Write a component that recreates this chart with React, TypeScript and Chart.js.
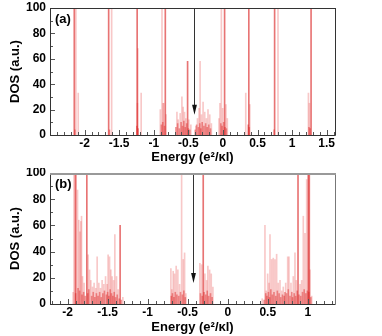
import React, { useEffect, useRef } from "react";
import { Chart, registerables } from "chart.js";

Chart.register(...registerables);

const FONT = "'Liberation Sans', Arial, Helvetica, sans-serif";

type Level = [number, number]; // [energy, DOS]

// ---------- panel (a) ----------
const strongA: Level[] = [
  [-2.149, 100], [-1.652, 100], [-1.24, 100], [-0.833, 100],
  [0.024, 100], [0.374, 100], [0.747, 100], [1.274, 100], [-0.511, 58],
];
const faintA: Level[] = [
  [-2.126, 100], [-2.092, 33], [-1.609, 100], [-1.23, 68], [-1.236, 25], [-1.182, 33],
  [-0.905, 20], [-0.881, 100], [-0.866, 25], [-0.856, 25], [-0.823, 16],
  [-0.665, 18], [-0.647, 12], [-0.618, 17], [-0.593, 30], [-0.575, 22], [-0.555, 18],
  [-0.536, 13], [-0.493, 12], [-0.464, 8],
  [-0.392, 7], [-0.368, 13], [-0.345, 21], [-0.33, 58], [-0.31, 16], [-0.287, 26],
  [-0.263, 18], [-0.239, 13], [-0.216, 20], [-0.191, 16], [-0.167, 9],
  [-0.057, 13], [-0.043, 25], [-0.023, 100], [-0.004, 21], [0.043, 24], [0.063, 13],
  [0.33, 33], [0.388, 24], [0.796, 100], [1.236, 33], [1.25, 25],
];
const baseA: Level[] = [
  [-0.68, 6], [-0.655, 9], [-0.63, 5], [-0.605, 10], [-0.585, 7], [-0.565, 11],
  [-0.545, 6], [-0.525, 9], [-0.5, 5], [-0.48, 4], [-0.4, 4], [-0.38, 8],
  [-0.355, 6], [-0.335, 9], [-0.32, 5], [-0.3, 10], [-0.275, 7], [-0.25, 9],
  [-0.228, 6], [-0.205, 8], [-0.18, 5], [-0.89, 8], [-0.87, 10], [-0.845, 7],
  [-0.03, 9], [-0.012, 7], [0.01, 10], [0.03, 6], [0.05, 5], [0.365, 8], [0.38, 6],
  [-1.245, 7], [-1.225, 5], [-2.14, 4], [-1.64, 4], [0.74, 4], [1.26, 5], [1.244, 6],
];
const xTicksA = [-2, -1.5, -1, -0.5, 0, 0.5, 1, 1.5];
const xMinA = -2.5;
const xMaxA = 1.62;
const fermiA = -0.425;

// ---------- panel (b) ----------
const strongB: Level[] = [
  [-1.898, 100], [-1.76, 100], [-1.344, 60], [-0.306, 100],
  [0.878, 100], [1.006, 100], [1.019, 100],
];
const faintB: Level[] = [
  [-1.92, 100], [-1.91, 100], [-1.931, 9], [-1.876, 87], [-1.86, 64], [-1.846, 55],
  [-1.835, 63], [-1.826, 67], [-1.814, 21], [-1.794, 16], [-1.744, 37.5], [-1.726, 26],
  [-1.71, 18], [-1.689, 13], [-1.669, 16], [-1.648, 12], [-1.631, 36], [-1.61, 16],
  [-1.589, 12], [-1.569, 18], [-1.548, 15], [-1.526, 21], [-1.506, 15], [-1.494, 37.5],
  [-1.476, 36], [-1.46, 26], [-1.444, 21], [-1.426, 18], [-1.41, 53], [-1.389, 21],
  [-1.369, 11], [-1.31, 5],
  [-0.71, 27], [-0.698, 11], [-0.681, 25], [-0.664, 23], [-0.644, 29], [-0.623, 26],
  [-0.601, 15], [-0.576, 100], [-0.556, 34], [-0.539, 39], [-0.523, 8],
  [-0.348, 31], [-0.326, 30], [-0.285, 23], [-0.264, 18], [-0.248, 29], [-0.226, 26],
  [-0.206, 23], [-0.185, 13],
  [0.431, 4], [0.465, 60], [0.481, 10], [0.499, 23], [0.515, 16], [0.528, 53],
  [0.549, 34], [0.569, 35], [0.59, 34], [0.611, 38], [0.631, 16], [0.653, 18],
  [0.674, 10], [0.694, 13], [0.724, 16], [0.749, 36], [0.765, 36], [0.79, 16],
  [0.819, 21], [0.84, 39], [0.856, 18], [0.903, 15], [0.924, 18], [0.944, 67],
  [0.965, 54], [0.986, 95], [1.028, 26], [1.049, 6],
];
const baseB: Level[] = [
  [-1.9, 8], [-1.87, 12], [-1.85, 10], [-1.82, 7], [-1.8, 9], [-1.78, 6], [-1.75, 8],
  [-1.735, 11], [-1.7, 6], [-1.68, 9], [-1.66, 5], [-1.64, 8], [-1.62, 6], [-1.6, 9],
  [-1.58, 5], [-1.56, 8], [-1.54, 10], [-1.515, 7], [-1.5, 9], [-1.485, 6], [-1.468, 11],
  [-1.452, 8], [-1.435, 6], [-1.418, 9], [-1.4, 5], [-1.38, 7], [-1.355, 4], [-1.33, 3],
  [-0.705, 6], [-0.69, 8], [-0.672, 5], [-0.655, 9], [-0.635, 7], [-0.612, 6], [-0.59, 9],
  [-0.566, 7], [-0.548, 10], [-0.53, 5],
  [-0.34, 8], [-0.318, 6], [-0.296, 9], [-0.275, 7], [-0.256, 10], [-0.238, 6],
  [-0.215, 8], [-0.195, 5],
  [0.455, 3], [0.475, 8], [0.49, 6], [0.508, 9], [0.522, 5], [0.538, 11], [0.558, 7],
  [0.578, 9], [0.6, 6], [0.62, 10], [0.642, 8], [0.662, 5], [0.684, 7], [0.705, 6],
  [0.715, 9], [0.735, 8], [0.757, 11], [0.778, 6], [0.8, 9], [0.81, 5], [0.83, 8],
  [0.848, 6], [0.868, 10], [0.89, 7], [0.912, 6], [0.934, 9], [0.955, 11], [0.975, 8],
  [0.995, 10], [1.012, 9], [1.038, 5],
];
const xTicksB = [-2, -1.5, -1, -0.5, 0, 0.5, 1];
const xMinB = -2.22;
const xMaxB = 1.34;
const fermiB = -0.439;

// ---------- shared ----------
const yTicks = [0, 20, 40, 60, 80, 100];
const arrowTipDos = 16;
const yTitle = "DOS (a.u.)";
const xTitle = "Energy (e\u00B2/\u03BAl)";

interface PanelSpec {
  label: string;
  strong: Level[];
  faint: Level[];
  base: Level[];
  xMin: number;
  xMax: number;
  xTicks: number[];
  fermi: number;
  padTop: number;
  axisH: number;
  titlePad: number;
  topColor: string;
  topWidth: number;
  rightColor: string;
}

const decorPlugin = {
  id: "decor",
  afterDatasetsDraw(chart: any, _args: any, opts: any) {
    const { ctx, chartArea } = chart;
    const { left, right, top, bottom } = chartArea;
    const xs = chart.scales.x;
    const ys = chart.scales.y;
    ctx.save();

    // arrow at the Fermi level
    const ax = Math.round(xs.getPixelForValue(opts.fermi)) + 0.5;
    const ay0 = ys.getPixelForValue(100);
    const ay1 = ys.getPixelForValue(opts.tip);
    ctx.strokeStyle = "#333";
    ctx.lineWidth = 1;
    ctx.beginPath();
    ctx.moveTo(ax, ay0);
    ctx.lineTo(ax, ay1 - 6);
    ctx.stroke();
    ctx.fillStyle = "#111";
    ctx.beginPath();
    ctx.moveTo(ax, ay1);
    ctx.lineTo(ax - 2.4, ay1 - 10);
    ctx.lineTo(ax + 2.4, ay1 - 10);
    ctx.closePath();
    ctx.fill();

    // inward ticks
    ctx.strokeStyle = "#555";
    ctx.lineWidth = 1;
    ctx.beginPath();
    const k0 = Math.ceil(opts.xMin * 10 - 1e-6);
    const k1 = Math.floor(opts.xMax * 10 + 1e-6);
    for (let k = k0; k <= k1; k++) {
      const px = Math.round(xs.getPixelForValue(k / 10)) + 0.5;
      const len = k % 5 === 0 ? 5 : 3;
      ctx.moveTo(px, bottom);
      ctx.lineTo(px, bottom - len);
    }
    for (let v = 0; v <= 100; v += 10) {
      const py = Math.round(ys.getPixelForValue(v)) + 0.5;
      const len = v % 20 === 0 ? 5 : 3;
      ctx.moveTo(left, py);
      ctx.lineTo(left + len, py);
    }
    ctx.stroke();

    // frame
    ctx.lineWidth = 1;
    ctx.strokeStyle = "#333";
    ctx.beginPath();
    ctx.moveTo(left + 0.5, top);
    ctx.lineTo(left + 0.5, bottom + 0.5);
    ctx.lineTo(right + 0.5, bottom + 0.5);
    ctx.stroke();
    ctx.strokeStyle = opts.rightColor;
    ctx.beginPath();
    ctx.moveTo(right + 0.5, bottom + 0.5);
    ctx.lineTo(right + 0.5, top);
    ctx.stroke();
    ctx.strokeStyle = opts.topColor;
    ctx.lineWidth = opts.topWidth;
    ctx.beginPath();
    ctx.moveTo(left, top + opts.topWidth / 2);
    ctx.lineTo(right + 1, top + opts.topWidth / 2);
    ctx.stroke();

    // panel label
    ctx.fillStyle = "#000";
    ctx.font = `bold 13px ${FONT}`;
    ctx.textBaseline = "middle";
    ctx.textAlign = "left";
    ctx.fillText(opts.label, left + 5, top + 11.5);

    ctx.restore();
  },
};

function makeConfig(p: PanelSpec): any {
  const toPts = (arr: Level[]) => arr.map(([x, y]) => ({ x, y }));
  const barCommon = {
    type: "bar",
    borderWidth: 0,
    barThickness: 1,
    stack: "s",
    grouped: true,
  };
  return {
    type: "bar",
    data: {
      datasets: [
        { ...barCommon, data: toPts(p.strong), backgroundColor: "rgba(218, 30, 30, 0.62)" },
        { ...barCommon, data: toPts(p.faint), backgroundColor: "rgba(230, 50, 50, 0.27)" },
        { ...barCommon, data: toPts(p.base), backgroundColor: "rgba(212, 0, 0, 0.4)" },
      ],
    },
    options: {
      animation: false,
      responsive: false,
      devicePixelRatio: 1,
      layout: { padding: { left: 0, right: 47, top: p.padTop, bottom: 0 } },
      plugins: {
        legend: { display: false },
        tooltip: { enabled: false },
        decor: {
          fermi: p.fermi,
          tip: arrowTipDos,
          xMin: p.xMin,
          xMax: p.xMax,
          label: p.label,
          topColor: p.topColor,
          topWidth: p.topWidth,
          rightColor: p.rightColor,
        },
      },
      scales: {
        x: {
          type: "linear",
          min: p.xMin,
          max: p.xMax,
          offset: false,
          grid: { display: false, drawTicks: false, offset: false },
          border: { display: false },
          afterBuildTicks: (s: any) => {
            s.ticks = p.xTicks.map((v) => ({ value: v }));
          },
          afterFit: (s: any) => {
            s.height = p.axisH;
            s.paddingLeft = 0;
            s.paddingRight = 0;
          },
          ticks: {
            padding: 1,
            color: "#000",
            autoSkip: false,
            maxRotation: 0,
            font: { family: FONT, size: 12, weight: "bold" },
            callback: (v: any) => String(v),
          },
          title: {
            display: true,
            text: xTitle,
            color: "#000",
            font: { family: FONT, size: 13, weight: "bold" },
            padding: { top: 0, bottom: p.titlePad },
          },
        },
        y: {
          min: 0,
          max: 100,
          stacked: false,
          grid: { display: false, drawTicks: false },
          border: { display: false },
          afterBuildTicks: (s: any) => {
            s.ticks = yTicks.map((v) => ({ value: v }));
          },
          afterFit: (s: any) => {
            s.width = 50;
            s.paddingTop = 0;
            s.paddingBottom = 0;
          },
          ticks: {
            padding: 4,
            color: "#000",
            font: { family: FONT, size: 12, weight: "bold" },
            callback: (v: any) => String(v),
          },
          title: {
            display: true,
            text: yTitle,
            color: "#000",
            font: { family: FONT, size: 13, weight: "bold" },
            padding: { top: 8, bottom: 0 },
          },
        },
      },
    },
    plugins: [decorPlugin],
  };
}

const panelA: PanelSpec = {
  label: "(a)",
  strong: strongA,
  faint: faintA,
  base: baseA,
  xMin: xMinA,
  xMax: xMaxA,
  xTicks: xTicksA,
  fermi: fermiA,
  padTop: 8,
  axisH: 33,
  titlePad: 2.7,
  topColor: "#333",
  topWidth: 1,
  rightColor: "#333",
};

const panelB: PanelSpec = {
  label: "(b)",
  strong: strongB,
  faint: faintB,
  base: baseB,
  xMin: xMinB,
  xMax: xMaxB,
  xTicks: xTicksB,
  fermi: fermiB,
  padTop: 5,
  axisH: 32,
  titlePad: 0.7,
  topColor: "#999",
  topWidth: 2,
  rightColor: "#777",
};

function Panel({ spec }: { spec: PanelSpec }) {
  const ref = useRef<HTMLCanvasElement | null>(null);
  useEffect(() => {
    if (!ref.current) return;
    const chart = new Chart(ref.current, makeConfig(spec));
    return () => chart.destroy();
  }, [spec]);
  return <canvas ref={ref} width={382} height={168} style={{ display: "block", width: 382, height: 168 }} />;
}

export default function App() {
  return (
    <div style={{ position: "fixed", left: 0, top: 0, width: 382, height: 336, background: "#fff" }}>
      <Panel spec={panelA} />
      <Panel spec={panelB} />
    </div>
  );
}
